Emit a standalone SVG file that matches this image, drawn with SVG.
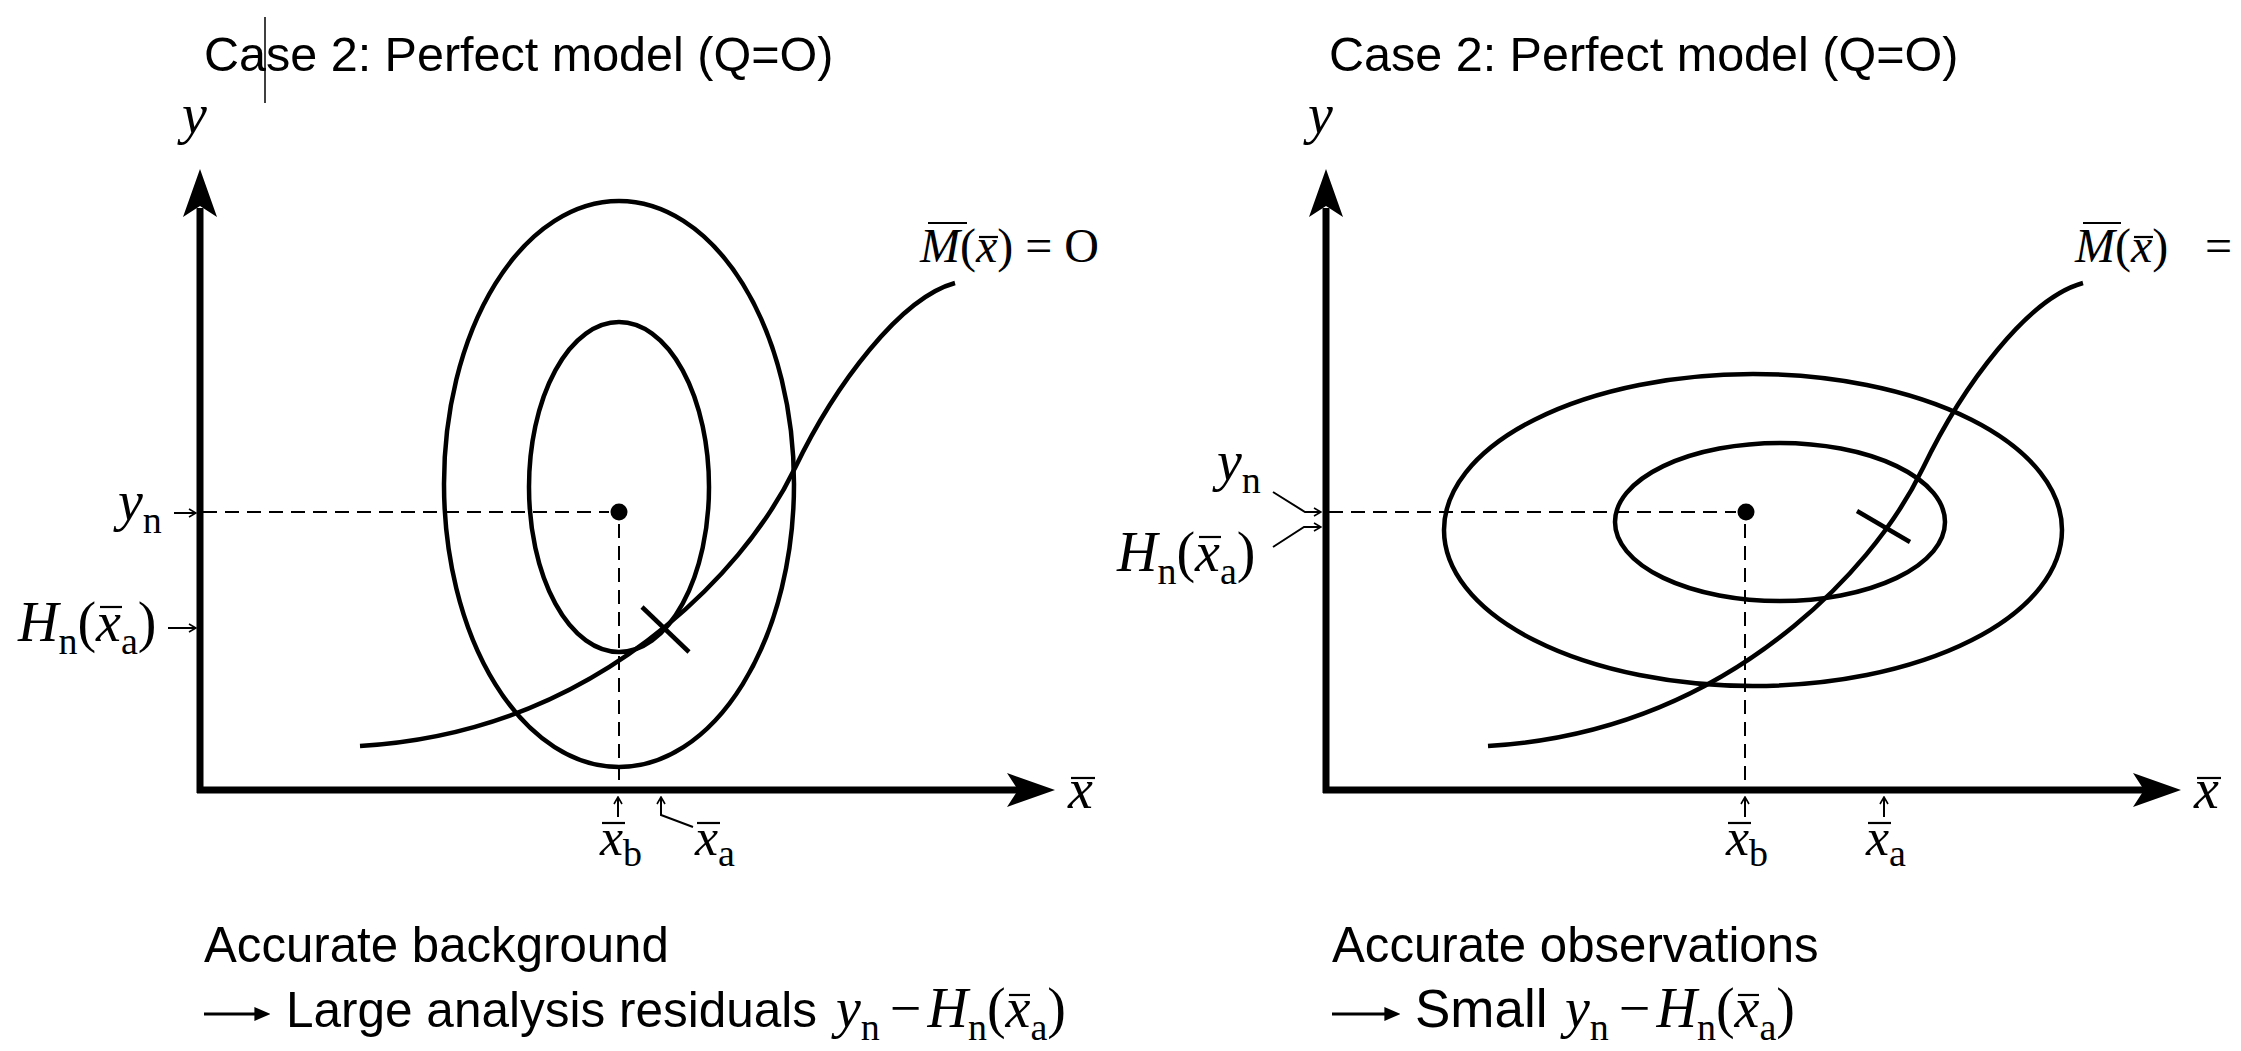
<svg xmlns="http://www.w3.org/2000/svg" width="2241" height="1051" viewBox="0 0 2241 1051">
<style>
.ax{stroke:#000;stroke-width:7;fill:none}
.ah{fill:#000;stroke:none}
.cv{stroke:#000;stroke-width:4.5;fill:none}
.dash{stroke:#000;stroke-width:2;stroke-dasharray:14 8;fill:none}
.ptr{stroke:#000;stroke-width:2;fill:none;marker-end:url(#chev)}
.bar{stroke:#000;stroke-width:2.2}
.sans{font-family:"Liberation Sans",Arial,Helvetica,sans-serif;font-size:48.5px;fill:#000}
.cap{font-size:49.2px}
.m{font-family:"Liberation Serif","Times New Roman",serif;font-size:56px;fill:#000}
.i{font-style:italic}
.s{font-size:38px}
</style>
<defs>
<marker id="chev" viewBox="0 0 10 10" refX="9" refY="5" markerWidth="10" markerHeight="10" markerUnits="userSpaceOnUse" orient="auto">
<path d="M2,1 L9,5 L2,9" fill="none" stroke="#000" stroke-width="1.6"/>
</marker>
<marker id="tri" viewBox="0 0 10 10" refX="1" refY="5" markerWidth="16" markerHeight="14" markerUnits="userSpaceOnUse" orient="auto" preserveAspectRatio="none">
<path d="M0,0 L10,5 L0,10 Z" fill="#000"/>
</marker>
</defs>

<g id="titles">
<text class="sans" x="204" y="71">Case 2: Perfect model (Q=O)</text>
<line x1="265" y1="17" x2="265" y2="103" stroke="#000" stroke-width="1.5"/>
<text class="sans" x="1329" y="71">Case 2: Perfect model (Q=O)</text>
</g>

<g id="left-panel">
<g id="left-axes">
<line class="ax" x1="200" y1="793" x2="200" y2="208"/>
<line class="ax" x1="197" y1="790" x2="1018" y2="790"/>
<path class="ah" d="M200,169 L183,217 L200,206 L217,217 Z"/>
<path class="ah" d="M1055,790 L1007,773 L1018,790 L1007,807 Z"/>
<text class="m i" x="182" y="133">y</text>
<text class="m i" x="1068" y="808">x</text>
<line class="bar" x1="1071" y1="778" x2="1095" y2="778"/>
</g>
<g id="left-ellipses">
<ellipse class="cv" cx="619" cy="484" rx="175" ry="283"/>
<ellipse class="cv" cx="619" cy="487" rx="90" ry="165"/>
<circle cx="619" cy="512" r="8.5" fill="#000"/>
</g>
<g id="left-curve">
<path class="cv" d="M360,746 C460,740 566,708 666,626 C716,585 765,530 795,468 C835,385 900,298 955,283"/>
<line class="cv" x1="642" y1="607" x2="689" y2="652"/>
<text class="m i" x="920" y="262" style="font-size:48px"><tspan>M</tspan><tspan font-style="normal">(</tspan>x<tspan font-style="normal">) = O</tspan></text>
<line class="bar" x1="928" y1="223" x2="967" y2="223"/>
<line class="bar" x1="979" y1="237" x2="998" y2="237"/>
</g>
<g id="left-labels">
<text class="m" x="118" y="520"><tspan class="i">y</tspan><tspan class="s" dy="13">n</tspan></text>
<text class="m" x="18" y="641"><tspan class="i">H</tspan><tspan class="s" dy="13">n</tspan><tspan dy="-13">(</tspan><tspan class="i">x</tspan><tspan class="s" dy="13">a</tspan><tspan dy="-13">)</tspan></text>
<line class="bar" x1="100" y1="607" x2="122" y2="607"/>
<text class="m i" x="600" y="855" style="font-size:52px">x<tspan class="s" font-style="normal" dy="11">b</tspan></text>
<line class="bar" x1="602" y1="823" x2="625" y2="823"/>
<text class="m i" x="695" y="855" style="font-size:52px">x<tspan class="s" font-style="normal" dy="11">a</tspan></text>
<line class="bar" x1="697" y1="823" x2="720" y2="823"/>
</g>
</g>

<g id="right-panel">
<g id="right-axes">
<line class="ax" x1="1326" y1="793" x2="1326" y2="208"/>
<line class="ax" x1="1323" y1="790" x2="2144" y2="790"/>
<path class="ah" d="M1326,169 L1309,217 L1326,206 L1343,217 Z"/>
<path class="ah" d="M2181,790 L2133,773 L2144,790 L2133,807 Z"/>
<text class="m i" x="1308" y="133">y</text>
<text class="m i" x="2194" y="808">x</text>
<line class="bar" x1="2197" y1="778" x2="2221" y2="778"/>
</g>
<g id="right-ellipses">
<ellipse class="cv" cx="1753" cy="530" rx="309" ry="156"/>
<ellipse class="cv" cx="1780" cy="522" rx="165" ry="79"/>
<circle cx="1746" cy="512" r="8.5" fill="#000"/>
</g>
<g id="right-curve">
<path class="cv" transform="translate(1128 0)" d="M360,746 C460,740 566,708 666,626 C716,585 765,530 795,468 C835,385 900,298 955,283"/>
<line class="cv" x1="1857" y1="511" x2="1910" y2="542"/>
<text class="m i" x="2075" y="262" style="font-size:48px"><tspan>M</tspan><tspan font-style="normal">(</tspan>x<tspan font-style="normal">)</tspan></text>
<text class="m" x="2205" y="262" style="font-size:48px">=</text>
<line class="bar" x1="2083" y1="223" x2="2121" y2="223"/>
<line class="bar" x1="2134" y1="237" x2="2153" y2="237"/>
</g>
<g id="right-labels">
<text class="m" x="1217" y="480"><tspan class="i">y</tspan><tspan class="s" dy="13">n</tspan></text>
<text class="m" x="1117" y="571"><tspan class="i">H</tspan><tspan class="s" dy="13">n</tspan><tspan dy="-13">(</tspan><tspan class="i">x</tspan><tspan class="s" dy="13">a</tspan><tspan dy="-13">)</tspan></text>
<line class="bar" x1="1199" y1="537" x2="1221" y2="537"/>
<text class="m i" x="1726" y="855" style="font-size:52px">x<tspan class="s" font-style="normal" dy="11">b</tspan></text>
<line class="bar" x1="1728" y1="823" x2="1751" y2="823"/>
<text class="m i" x="1866" y="855" style="font-size:52px">x<tspan class="s" font-style="normal" dy="11">a</tspan></text>
<line class="bar" x1="1868" y1="823" x2="1891" y2="823"/>
</g>
</g>

<g id="connectors">
<path class="dash" d="M203,512 H609"/>
<path class="dash" d="M619,524 V787"/>
<path class="dash" d="M1329,512 H1736"/>
<path class="dash" d="M1745,524 V787"/>
<path class="ptr" d="M174,513 H196"/>
<path class="ptr" d="M168,628 H196"/>
<path class="ptr" d="M618,817 V797"/>
<path class="ptr" d="M693,827 L661,815 V797"/>
<path class="ptr" d="M1273,492 L1305,512 H1321"/>
<path class="ptr" d="M1273,547 L1304,527 H1321"/>
<path class="ptr" d="M1745,817 V797"/>
<path class="ptr" d="M1884,817 V797"/>
</g>

<g id="captions">
<text class="sans cap" x="204" y="962">Accurate background</text>
<line x1="204" y1="1014" x2="256" y2="1014" stroke="#000" stroke-width="3" marker-end="url(#tri)"/>
<text class="sans" x="286" y="1027" style="font-size:49.5px">Large analysis residuals</text>
<text class="m" x="836" y="1027"><tspan class="i">y</tspan><tspan class="s" dy="13">n</tspan><tspan dy="-13" dx="10">−</tspan><tspan class="i" dx="6">H</tspan><tspan class="s" dy="13">n</tspan><tspan dy="-13">(</tspan><tspan class="i">x</tspan><tspan class="s" dy="13">a</tspan><tspan dy="-13">)</tspan></text>
<line class="bar" x1="1009" y1="995" x2="1030" y2="995"/>
<text class="sans cap" x="1332" y="962">Accurate observations</text>
<line x1="1332" y1="1014" x2="1386" y2="1014" stroke="#000" stroke-width="3" marker-end="url(#tri)"/>
<text class="sans" x="1415" y="1027" style="font-size:53px">Small</text>
<text class="m" x="1565" y="1027"><tspan class="i">y</tspan><tspan class="s" dy="13">n</tspan><tspan dy="-13" dx="10">−</tspan><tspan class="i" dx="6">H</tspan><tspan class="s" dy="13">n</tspan><tspan dy="-13">(</tspan><tspan class="i">x</tspan><tspan class="s" dy="13">a</tspan><tspan dy="-13">)</tspan></text>
<line class="bar" x1="1738" y1="995" x2="1759" y2="995"/>
</g>
</svg>
